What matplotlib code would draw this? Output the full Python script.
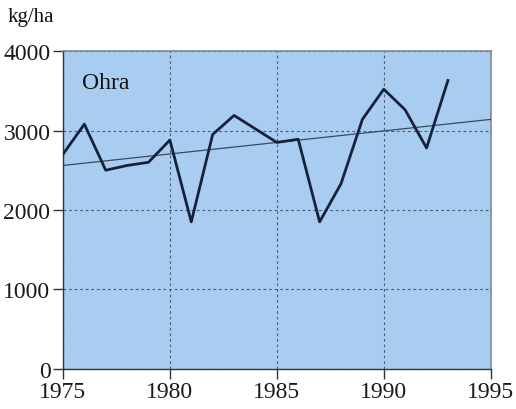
import matplotlib
matplotlib.use('Agg')
import matplotlib.pyplot as plt

# Ohra (barley) yield, kg/ha
years = [1975, 1976, 1977, 1978, 1979, 1980, 1981, 1982, 1983, 1984,
         1985, 1986, 1987, 1988, 1989, 1990, 1991, 1992, 1993]
yields = [2700, 3080, 2500, 2560, 2600, 2880, 1850, 2950, 3190, 3020,
          2850, 2890, 1850, 2330, 3140, 3520, 3260, 2780, 3630]
trend_years = [1975, 1995]
trend_vals = [2560, 3140]

x_ticks = [1975, 1980, 1985, 1990, 1995]
y_ticks = [0, 1000, 2000, 3000, 4000]

plt.rcParams['font.family'] = ['Liberation Serif', 'DejaVu Serif']

fig = plt.figure(figsize=(5.16, 4.10), dpi=100)
ax = fig.add_axes([0.122, 0.098, 0.829, 0.775])
ax.set_facecolor('#a8cdf0')

ax.plot(trend_years, trend_vals, color='#3a4a5e', lw=0.9, zorder=3)
ax.plot(years, yields, color='#16223a', lw=2.0, zorder=4)

ax.set_xlim(1975, 1995)
ax.set_ylim(0, 4000)
ax.set_xticks(x_ticks)
ax.set_yticks(y_ticks)
ax.tick_params(axis='both', labelsize=17, color='#333333', length=7,
               width=1.0, pad=2, labelcolor='#1a1a1a')

ax.grid(True, color='#4a5e78', linestyle=(0, (2.5, 2.5)), lw=0.8)
ax.set_axisbelow(True)

for s in ['left', 'bottom']:
    ax.spines[s].set_color('#333333')
    ax.spines[s].set_linewidth(1.0)
for s in ['top', 'right']:
    ax.spines[s].set_color('#7f8a96')
    ax.spines[s].set_linewidth(1.2)

ax.text(0.045, 0.935, 'Ohra', transform=ax.transAxes, fontsize=17,
        va='top', ha='left', color='#111111')
fig.text(0.014, 0.935, 'kg/ha', fontsize=15, ha='left', va='bottom',
         color='#111111')

fig.savefig('out.png', dpi=100)
